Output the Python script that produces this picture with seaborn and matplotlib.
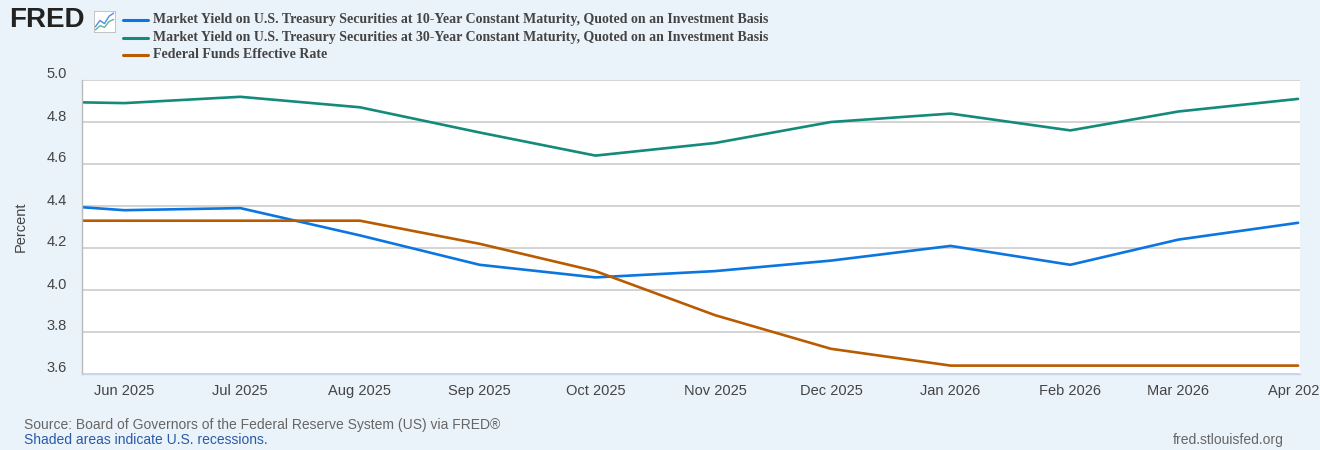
import numpy as np
import pandas as pd
import matplotlib.pyplot as plt
import matplotlib.dates as mdates
import matplotlib.transforms as mtransforms
import seaborn as sns

# monthly observations (first of month)
months = pd.date_range("2025-05-01", "2026-04-01", freq="MS")
gs10 = [4.42, 4.38, 4.39, 4.26, 4.12, 4.06, 4.09, 4.14, 4.21, 4.12, 4.24, 4.32]
gs30 = [4.90, 4.89, 4.92, 4.87, 4.75, 4.64, 4.70, 4.80, 4.84, 4.76, 4.85, 4.91]
fedfunds = [4.33, 4.33, 4.33, 4.33, 4.22, 4.09, 3.88, 3.72, 3.64, 3.64, 3.64, 3.64]

names = [
    "Market Yield on U.S. Treasury Securities at 10-Year Constant Maturity, Quoted on an Investment Basis",
    "Market Yield on U.S. Treasury Securities at 30-Year Constant Maturity, Quoted on an Investment Basis",
    "Federal Funds Effective Rate",
]
colors = ["#0b75e0", "#138a7a", "#b95b00"]

df = pd.DataFrame({
    "date": np.tile(months, 3),
    "value": gs10 + gs30 + fedfunds,
    "series": np.repeat(names, len(months)),
})

bg = "#eaf2fa"
sns.set_theme(style="white")
plt.rcParams["font.family"] = ["Liberation Sans", "DejaVu Sans"]

fig = plt.figure(figsize=(13.2, 4.5), dpi=100, facecolor=bg)
ax = fig.add_axes([82 / 1320, (450 - 374) / 450, (1300 - 82) / 1320, (374 - 80) / 450])
ax.set_facecolor("white")

sns.lineplot(data=df, x="date", y="value", hue="series", palette=colors,
             linewidth=1.9, ax=ax, legend=False)

ax.set_xlim(pd.Timestamp("2025-05-21"), pd.Timestamp("2026-04-01 12:00"))
ax.set_ylim(3.6, 5.0)
ax.set_yticks(np.arange(3.6, 5.01, 0.2))
ax.set_yticklabels([f"{v:.1f}" for v in np.arange(3.6, 5.01, 0.2)])
ax.xaxis.set_major_locator(mdates.MonthLocator())
ax.xaxis.set_major_formatter(mdates.DateFormatter("%b %Y"))

ax.grid(axis="y", color="#c8c8c8", linewidth=1.1)
ax.grid(axis="x", visible=False)
for s in ["top", "right"]:
    ax.spines[s].set_visible(False)
ax.spines["left"].set_color("#bbbbbb")
ax.spines["bottom"].set_color("#ccd6eb")
ax.spines["left"].set_linewidth(1.0)
ax.spines["bottom"].set_linewidth(1.0)

ax.tick_params(axis="x", length=7, width=1, color="#ccd6eb", labelsize=10.5,
               labelcolor="#444444", pad=0.5)
ax.tick_params(axis="y", length=0, labelsize=10.5, labelcolor="#444444", pad=11)
shift = mtransforms.ScaledTranslation(0, 7 / 100, fig.dpi_scale_trans)
for lab in ax.get_yticklabels():
    lab.set_transform(lab.get_transform() + shift)

ax.set_xlabel("")
ax.set_ylabel("Percent", fontsize=10.5, color="#444444")
ax.yaxis.set_label_coords(-54 / 1218, 0.5)

# legend drawn as header
for i, (name, c) in enumerate(zip(names, colors)):
    y = 1 - (20 + 17.5 * i) / 450
    fig.add_artist(plt.Line2D([123 / 1320, 148 / 1320], [y, y], color=c, lw=2.2))
    fig.text(153 / 1320, y, name, ha="left", va="center", fontsize=10,
             fontweight="bold", color="#444444",
             family=["Liberation Serif", "DejaVu Serif"])

# FRED logo
fig.text(9 / 1320, 1 - 20 / 450, "FRED", ha="left", va="center", fontsize=20,
         fontweight="heavy", color="#222222")
icon = fig.add_axes([94 / 1320, 1 - 32 / 450, 21 / 1320, 21 / 450])
icon.set_facecolor("white")
icon.plot([0, 1, 2, 3, 4], [1, 2.2, 1.6, 3, 3.6], color="#4d8fdc", lw=1)
icon.plot([0, 1, 2, 3, 4], [0.4, 1.2, 0.9, 2.0, 2.4], color="#5fb3a0", lw=1)
icon.set_xlim(-0.3, 4.3)
icon.set_ylim(0, 4)
icon.set_xticks([])
icon.set_yticks([])
for s in icon.spines.values():
    s.set_color("#bbbbbb")
    s.set_linewidth(0.6)

fig.text(24 / 1320, 1 - 425 / 450, "Source: Board of Governors of the Federal Reserve System (US) via FRED\u00ae",
         ha="left", va="center", fontsize=10, color="#666666")
fig.text(24 / 1320, 1 - 440 / 450, "Shaded areas indicate U.S. recessions.",
         ha="left", va="center", fontsize=10, color="#2a5aa8")
fig.text(1284 / 1320, 1 - 440 / 450, "fred.stlouisfed.org",
         ha="right", va="center", fontsize=10, color="#666666")

fig.savefig("out.png", dpi=100, facecolor=bg)
